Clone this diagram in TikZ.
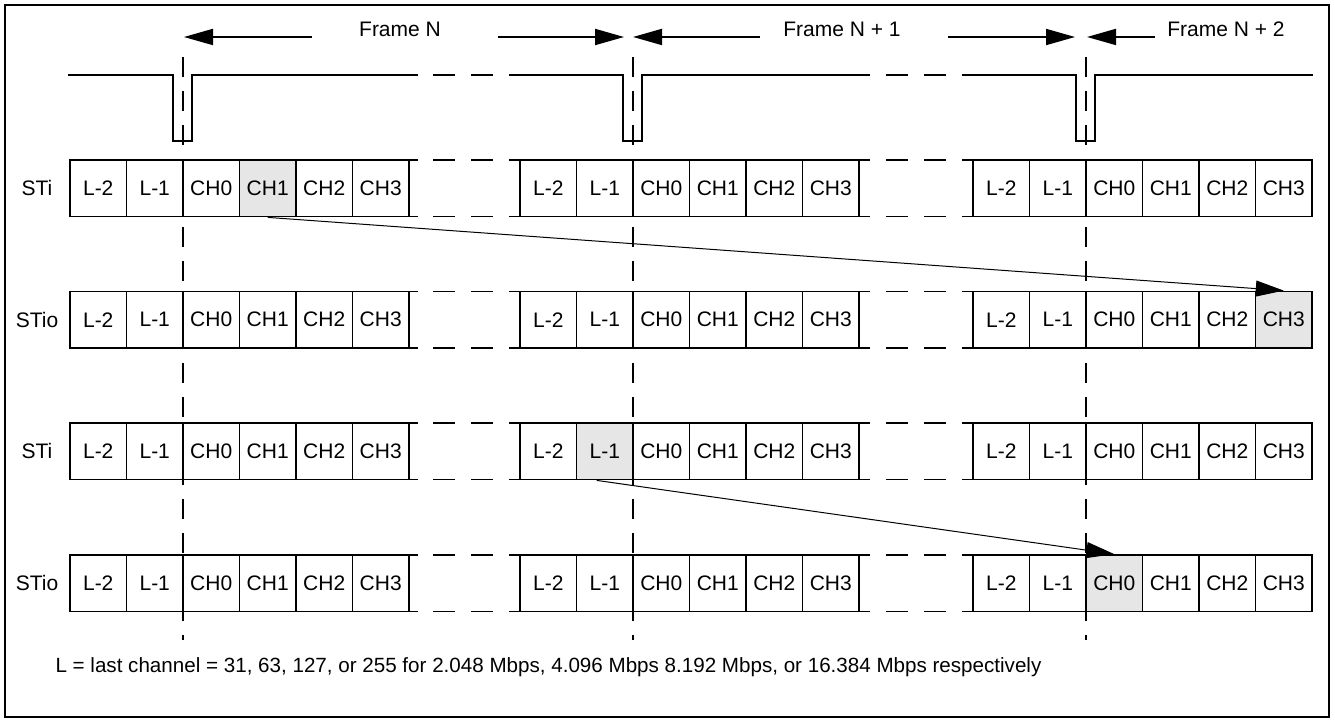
\documentclass[tikz,border=0pt]{standalone}
\usepackage{fontspec}
\setmainfont{Liberation Sans}
\usetikzlibrary{arrows.meta}

\definecolor{slotgray}{HTML}{E6E6E6}

\tikzset{
    wire/.style={line width=1.8pt},
    slot/.style={draw, line width=1.8pt, minimum width=56.5pt, minimum height=56.5pt,
        inner sep=0pt, font=\fontsize{21}{25}\selectfont},
    rowlabel/.style={font=\fontsize{21}{25}\selectfont},
    gapdash/.style={line width=1.8pt, dash pattern=on 22pt off 16pt},
    framedash/.style={line width=1.8pt, dash pattern=on 20pt off 14pt},
    span/.style={line width=1.8pt, -{Triangle[length=29pt,width=16pt]}},
    move/.style={line width=1pt, -{Triangle[length=28pt,width=16pt]}},
}

\begin{document}
\begin{tikzpicture}[x=1pt,y=-1pt]
\useasboundingbox (0,0) rectangle (1335,722);
\draw[wire] (5,5) rectangle (1329,717);

\foreach \rw/\ytop/\rname/\hg/\hk in {1/160/STi/1/3, 2/291.5/STio/3/5, 3/423/STi/2/1, 4/555/STio/3/2} {
    \node[rowlabel] (lab\rw) at (37,\ytop+28.25) {\rname};
    \foreach \grp/\gx/\la/\lb in {1/70/70/418, 2/520/509/870, 3/973/962/1312} {
        \foreach \lab [count=\k from 0] in {L-2,L-1,CH0,CH1,CH2,CH3} {
            \def\shade{white}
            \ifnum\grp=\hg\relax\ifnum\k=\hk\relax\def\shade{slotgray}\fi\fi
            \node[slot, fill=\shade] (r\rw g\grp c\k) at ({\gx+56.5*(\k+0.5)},\ytop+28.25) {\lab};
        }
        \draw[wire] (\la,\ytop) -- (\lb,\ytop) (\la,\ytop+56.5) -- (\lb,\ytop+56.5);
    }
    \draw[gapdash] (433,\ytop) -- (493,\ytop) (886,\ytop) -- (946,\ytop);
    \draw[gapdash] (433,\ytop+56.5) -- (493,\ytop+56.5) (886,\ytop+56.5) -- (946,\ytop+56.5);
}

\foreach \gx/\la/\lb in {70/68/418, 520/509/870, 973/962/1313} {
    \draw[wire] (\la,75) -- (\gx+103,75) -- (\gx+103,141) -- (\gx+122,141) -- (\gx+122,75) -- (\lb,75);
    \draw[framedash] (\gx+113,57) -- (\gx+113,640);
}
\draw[gapdash] (433,75) -- (493,75) (886,75) -- (946,75);

\node[rowlabel] (fN) at (400,29) {Frame N};
\node[rowlabel] (fN1) at (842,29) {Frame N + 1};
\node[rowlabel] (fN2) at (1226,29) {Frame N + 2};

\coordinate (fb1) at (184,37);
\coordinate (fb2) at (633,37);
\coordinate (fb3) at (1087,37);
\draw[span] (312,37) -- (fb1);
\draw[span] (498,37) -- ([xshift=-9pt]fb2);
\draw[span] (760,37) -- (fb2);
\draw[span] (948,37) -- ([xshift=-12pt]fb3);
\draw[span] (1155,37) -- (fb3);

\draw[move] (r1g1c3.south) -- (r2g3c5.north);
\draw[move] ([xshift=-8pt]r3g2c1.south) -- (r4g3c2.north);

\node[anchor=west, font=\fontsize{20.6}{25}\selectfont] (note) at (52,667) {L = last channel = 31, 63, 127, or 255 for 2.048 Mbps, 4.096 Mbps 8.192 Mbps, or 16.384 Mbps respectively};
\end{tikzpicture}
\end{document}
